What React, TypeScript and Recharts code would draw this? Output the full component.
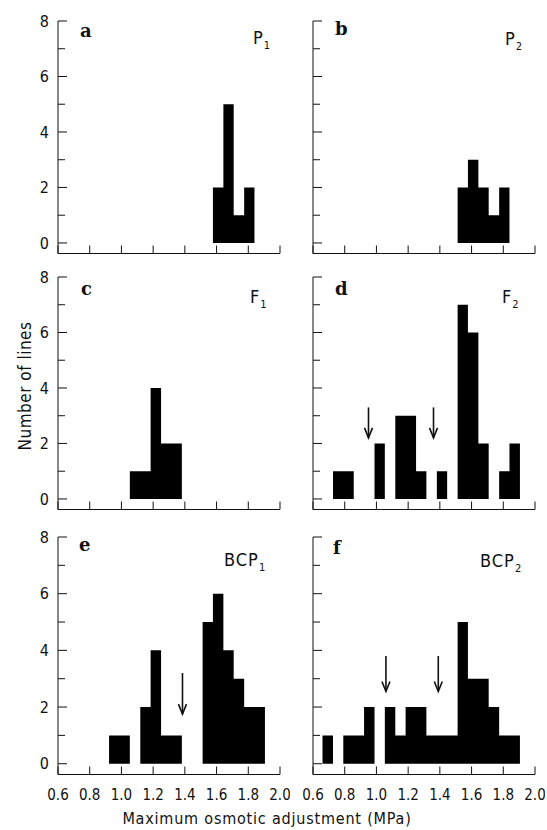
import React from "react";
import {
  ComposedChart,
  Area,
  XAxis,
  YAxis,
  ReferenceLine,
  ReferenceDot,
} from "recharts";

// bin edges (MPa)
const binEdges = [
  0.66, 0.726, 0.791, 0.857, 0.922, 0.988, 1.053, 1.119, 1.184, 1.25, 1.315,
  1.381, 1.446, 1.512, 1.577, 1.643, 1.708, 1.774, 1.839, 1.905, 1.97,
];

// number of lines per bin
const countsP1 = [0, 0, 0, 0, 0, 0, 0, 0, 0, 0, 0, 0, 0, 0, 2, 5, 1, 2, 0, 0];
const countsP2 = [0, 0, 0, 0, 0, 0, 0, 0, 0, 0, 0, 0, 0, 2, 3, 2, 1, 2, 0, 0];
const countsF1 = [0, 0, 0, 0, 0, 0, 1, 1, 4, 2, 2, 0, 0, 0, 0, 0, 0, 0, 0, 0];
const countsF2 = [0, 1, 1, 0, 0, 2, 0, 3, 3, 1, 0, 1, 0, 7, 6, 2, 0, 1, 2, 0];
const countsBCP1 = [0, 0, 0, 0, 1, 1, 0, 2, 4, 1, 1, 0, 0, 5, 6, 4, 3, 2, 2, 0];
const countsBCP2 = [1, 0, 1, 1, 2, 0, 2, 1, 2, 2, 1, 1, 1, 5, 3, 3, 2, 1, 1, 0];

// arrows: x position, top of shaft, tip (in counts)
const arrowsF2 = [
  { x: 0.95, top: 3.3, tip: 2.2 },
  { x: 1.36, top: 3.3, tip: 2.2 },
];
const arrowsBCP1 = [{ x: 1.385, top: 3.2, tip: 1.75 }];
const arrowsBCP2 = [
  { x: 1.06, top: 3.8, tip: 2.55 },
  { x: 1.39, top: 3.8, tip: 2.55 },
];

const xTicks = [0.6, 0.8, 1.0, 1.2, 1.4, 1.6, 1.8, 2.0];
const yTicks = [0, 1, 2, 3, 4, 5, 6, 7, 8];

const SANS = "'DejaVu Sans Condensed', 'DejaVu Sans', sans-serif";
const SERIF = "'DejaVu Serif', 'Liberation Serif', serif";
const INK = "#111";

const toSteps = (counts: number[]) => [
  ...counts.map((n, i) => ({ x: binEdges[i], n })),
  { x: binEdges[counts.length], n: 0 },
];

const YTick = (props: any) => {
  const { x, y, payload, showLabel } = props;
  const major = payload.value % 2 === 0;
  return (
    <g>
      <line x1={x} x2={x + (major ? 9 : 7)} y1={y} y2={y} stroke={INK} strokeWidth={1} />
      {showLabel && major && (
        <text x={x - 9} y={y} dy="0.36em" textAnchor="end" fontFamily={SANS} fontSize={16} fill={INK}>
          {payload.value}
        </text>
      )}
    </g>
  );
};

const XTick = (props: any) => {
  const { x, y, payload, showLabel } = props;
  return (
    <g>
      <line x1={x} x2={x} y1={y} y2={y - 8} stroke={INK} strokeWidth={1} />
      {showLabel && (
        <text x={x} y={y + 25} textAnchor="middle" fontFamily={SANS} fontSize={15} fill={INK}>
          {payload.value.toFixed(1)}
        </text>
      )}
    </g>
  );
};

const rowTops = [20.7, 276.7, 536.7];
const plotHeights = [232.5, 232.5, 237.5];

interface PanelProps {
  counts: number[];
  col: number;
  row: number;
  arrows?: { x: number; top: number; tip: number }[];
}

const Panel = ({ counts, col, row, arrows = [] }: PanelProps) => {
  const left = col === 0 ? 0 : 270;
  const width = col === 0 ? 290 : 275;
  const yWidth = col === 0 ? 58 : 43;
  const height = 10 + plotHeights[row] + 40;
  const data = toSteps(counts);
  return (
    <div style={{ position: "absolute", left, top: rowTops[row] - 10 }}>
      <ComposedChart
        width={width}
        height={height}
        data={data}
        margin={{ top: 10, right: 10, left: 0, bottom: 0 }}
      >
        <XAxis
          type="number"
          dataKey="x"
          domain={[0.6, 2.0]}
          ticks={xTicks}
          interval={0}
          allowDataOverflow
          height={40}
          tickLine={false}
          tickSize={0}
          tickMargin={0}
          axisLine={{ stroke: INK }}
          tick={(p: any) => <XTick {...p} showLabel={row === 2} />}
        />
        <YAxis
          type="number"
          domain={[-0.38, 8]}
          ticks={yTicks}
          interval={0}
          allowDataOverflow
          width={yWidth}
          tickLine={false}
          tickSize={0}
          tickMargin={0}
          axisLine={{ stroke: INK }}
          tick={(p: any) => <YTick {...p} showLabel={col === 0} />}
        />
        <Area
          type="stepAfter"
          dataKey="n"
          baseValue={0}
          fill="#000"
          fillOpacity={1}
          stroke="none"
          dot={false}
          activeDot={false}
          isAnimationActive={false}
        />
        {arrows.map((a, i) => (
          <ReferenceLine
            key={"l" + i}
            segment={[
              { x: a.x, y: a.top },
              { x: a.x, y: a.tip },
            ]}
            stroke={INK}
            strokeWidth={1.6}
            ifOverflow="visible"
          />
        ))}
        {arrows.map((a, i) => (
          <ReferenceDot
            key={"d" + i}
            x={a.x}
            y={a.tip}
            r={0}
            ifOverflow="visible"
            shape={(p: any) => (
              <path
                d={`M${p.cx - 4},${p.cy - 10} L${p.cx},${p.cy} L${p.cx + 4},${p.cy - 10}`}
                fill="none"
                stroke={INK}
                strokeWidth={1.6}
              />
            )}
          />
        ))}
      </ComposedChart>
    </div>
  );
};

const letters = [
  { t: "a", x: 80, y: 36.5 },
  { t: "b", x: 335, y: 35 },
  { t: "c", x: 81, y: 295 },
  { t: "d", x: 335, y: 295 },
  { t: "e", x: 79, y: 551 },
  { t: "f", x: 333, y: 554 },
];

const titles = [
  { t: "P", s: "1", x: 253, y: 44 },
  { t: "P", s: "2", x: 505, y: 45 },
  { t: "F", s: "1", x: 250, y: 303 },
  { t: "F", s: "2", x: 502, y: 303 },
  { t: "BCP", s: "1", x: 224, y: 566 },
  { t: "BCP", s: "2", x: 480, y: 567 },
];

export default function App() {
  return (
    <div
      style={{
        position: "absolute",
        left: 0,
        top: 0,
        width: 547,
        height: 830,
        background: "#fff",
        overflow: "hidden",
      }}
    >
      <Panel counts={countsP1} col={0} row={0} />
      <Panel counts={countsP2} col={1} row={0} />
      <Panel counts={countsF1} col={0} row={1} />
      <Panel counts={countsF2} col={1} row={1} arrows={arrowsF2} />
      <Panel counts={countsBCP1} col={0} row={2} arrows={arrowsBCP1} />
      <Panel counts={countsBCP2} col={1} row={2} arrows={arrowsBCP2} />
      <svg
        width={547}
        height={830}
        style={{ position: "absolute", left: 0, top: 0, pointerEvents: "none" }}
      >
        {letters.map((l) => (
          <text key={l.t} x={l.x} y={l.y} fontFamily={SERIF} fontWeight="bold" fontSize={18} fill={INK}>
            {l.t}
          </text>
        ))}
        {titles.map((t, i) => (
          <text key={i} x={t.x} y={t.y} fontFamily={SANS} fontSize={18} fill={INK} letterSpacing={1}>
            {t.t}
            <tspan fontSize={11} dy={5}>
              {t.s}
            </tspan>
          </text>
        ))}
        <text
          transform="translate(31,386) rotate(-90)"
          textAnchor="middle"
          fontFamily={SANS}
          fontSize={17}
          fill={INK}
          letterSpacing={0.5}
        >
          Number of lines
        </text>
        <text x={267} y={824} textAnchor="middle" fontFamily={SANS} fontSize={16} fill={INK} letterSpacing={0.8}>
          Maximum osmotic adjustment (MPa)
        </text>
      </svg>
    </div>
  );
}
